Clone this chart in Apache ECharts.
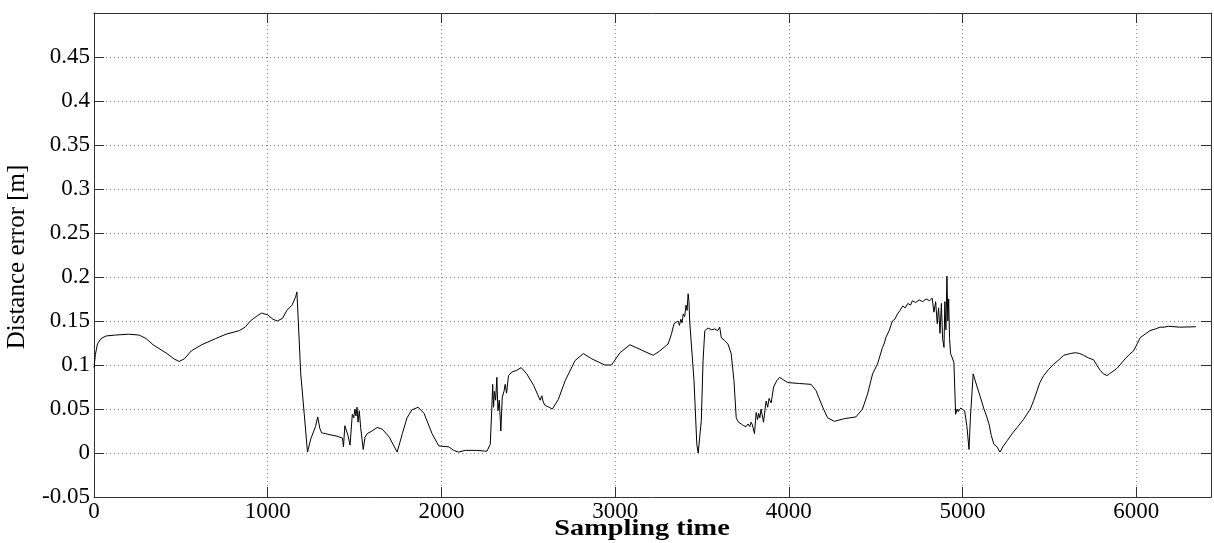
<!DOCTYPE html>
<html>
<head>
<meta charset="utf-8">
<script src="https://cdn.jsdelivr.net/npm/echarts@6/dist/echarts.min.js"></script>
<style>
  html, body { margin: 0; padding: 0; background: #fff; }
  #chart { width: 1214px; height: 543px; }
</style>
</head>
<body>
<div id="chart"></div>
<script>
// Sampling instants and the distance error measured at each one [m]
const sampleTime = [
  0, 8, 20, 40, 70, 120, 200, 260, 300, 340, 380, 420, 460, 490, 520, 560, 620, 700, 760, 836,
  870, 900, 940, 965, 1000, 1030, 1055, 1085, 1110, 1140, 1160, 1168, 1176, 1190, 1210, 1229, 1248, 1275, 1288, 1300,
  1310, 1353, 1400, 1430, 1436, 1444, 1452, 1462, 1474, 1487, 1495, 1502, 1508, 1514, 1520, 1527, 1535, 1550, 1560, 1573,
  1600, 1630, 1660, 1700, 1745, 1775, 1802, 1830, 1866, 1900, 1946, 1985, 2042, 2070, 2099, 2137, 2200, 2262, 2281, 2290,
  2295, 2300, 2305, 2312, 2319, 2325, 2333, 2342, 2350, 2360, 2367, 2375, 2386, 2405, 2434, 2459, 2491, 2530, 2555, 2568,
  2578, 2586, 2597, 2620, 2639, 2673, 2712, 2769, 2817, 2865, 2941, 2979, 3028, 3085, 3152, 3219, 3257, 3305, 3324, 3339,
  3362, 3370, 3378, 3385, 3392, 3400, 3408, 3414, 3420, 3425, 3429, 3454, 3470, 3478, 3485, 3496, 3506, 3516, 3534, 3555,
  3573, 3590, 3602, 3611, 3630, 3649, 3668, 3684, 3697, 3710, 3726, 3740, 3754, 3765, 3775, 3783, 3790, 3802, 3812, 3820,
  3826, 3833, 3840, 3854, 3869, 3878, 3886, 3898, 3912, 3930, 3946, 3970, 3994, 4060, 4128, 4156, 4195, 4223, 4262, 4319,
  4386, 4424, 4453, 4482, 4510, 4539, 4550, 4558, 4577, 4596, 4610, 4625, 4640, 4655, 4670, 4685, 4700, 4711, 4730, 4750,
  4770, 4790, 4810, 4825, 4835, 4845, 4854, 4862, 4870, 4878, 4885, 4893, 4898, 4904, 4910, 4915, 4920, 4925, 4931, 4950,
  4960, 4968, 4975, 4989, 5012, 5025, 5037, 5045, 5061, 5073, 5084, 5100, 5123, 5138, 5152, 5165, 5180, 5198, 5215, 5235,
  5257, 5285, 5314, 5350, 5390, 5410, 5429, 5445, 5467, 5495, 5525, 5555, 5582, 5620, 5649, 5675, 5697, 5725, 5754, 5775,
  5792, 5810, 5831, 5845, 5860, 5888, 5910, 5936, 5960, 5984, 6000, 6022, 6050, 6079, 6110, 6137, 6160, 6185, 6250, 6343
];
const distanceError = [
  0.097, 0.112, 0.124, 0.130, 0.133, 0.134, 0.135, 0.134, 0.130, 0.123, 0.118, 0.113, 0.107, 0.104, 0.107, 0.116, 0.123, 0.130, 0.135, 0.139,
  0.143, 0.150, 0.156, 0.159, 0.157, 0.152, 0.150, 0.153, 0.162, 0.168, 0.177, 0.183, 0.150, 0.090, 0.045, 0.001, 0.016, 0.030, 0.041, 0.028,
  0.023, 0.021, 0.019, 0.017, 0.007, 0.031, 0.030, 0.020, 0.009, 0.044, 0.040, 0.050, 0.042, 0.052, 0.035, 0.048, 0.029, 0.004, 0.018, 0.022,
  0.025, 0.029, 0.027, 0.018, 0.001, 0.022, 0.040, 0.049, 0.052, 0.045, 0.022, 0.008, 0.007, 0.003, 0.001, 0.003, 0.003, 0.002, 0.010, 0.050,
  0.078, 0.052, 0.070, 0.060, 0.086, 0.048, 0.060, 0.025, 0.063, 0.070, 0.078, 0.068, 0.088, 0.092, 0.094, 0.097, 0.090, 0.077, 0.066, 0.060,
  0.065, 0.058, 0.054, 0.052, 0.050, 0.061, 0.082, 0.105, 0.113, 0.107, 0.100, 0.100, 0.114, 0.123, 0.117, 0.111, 0.116, 0.124, 0.135, 0.147,
  0.150, 0.145, 0.152, 0.148, 0.158, 0.155, 0.168, 0.162, 0.181, 0.172, 0.150, 0.082, 0.010, 0.000, 0.002, 0.037, 0.105, 0.139, 0.142, 0.140,
  0.141, 0.139, 0.143, 0.131, 0.128, 0.124, 0.113, 0.082, 0.040, 0.035, 0.033, 0.031, 0.030, 0.033, 0.030, 0.035, 0.032, 0.022, 0.046, 0.038,
  0.045, 0.040, 0.050, 0.035, 0.059, 0.052, 0.062, 0.057, 0.075, 0.082, 0.086, 0.083, 0.080, 0.079, 0.078, 0.071, 0.052, 0.040, 0.036, 0.039,
  0.041, 0.050, 0.067, 0.090, 0.101, 0.120, 0.125, 0.131, 0.139, 0.150, 0.152, 0.158, 0.162, 0.167, 0.165, 0.170, 0.168, 0.173, 0.171, 0.174,
  0.172, 0.175, 0.173, 0.176, 0.160, 0.172, 0.147, 0.165, 0.136, 0.170, 0.130, 0.120, 0.172, 0.140, 0.201, 0.150, 0.175, 0.130, 0.113, 0.103,
  0.044, 0.050, 0.047, 0.051, 0.048, 0.030, 0.004, 0.040, 0.090, 0.082, 0.075, 0.065, 0.050, 0.042, 0.033, 0.020, 0.010, 0.007, 0.001, 0.008,
  0.014, 0.022, 0.029, 0.038, 0.050, 0.060, 0.071, 0.080, 0.088, 0.095, 0.101, 0.106, 0.111, 0.113, 0.114, 0.113, 0.111, 0.108, 0.106, 0.099,
  0.094, 0.090, 0.088, 0.090, 0.092, 0.096, 0.101, 0.107, 0.112, 0.116, 0.122, 0.131, 0.135, 0.139, 0.141, 0.143, 0.143, 0.144, 0.143, 0.1435
];

const xRange = [0, 6430];
const xStep = 1000;
const yRange = [-0.05, 0.5];
const yStep = 0.05;

const FONT = '"Liberation Serif", "Times New Roman", serif';
const points = sampleTime.map((t, i) => [t, distanceError[i]]);

const chart = echarts.init(document.getElementById('chart'), null, { renderer: 'canvas' });

const frameLine = { show: true, onZero: false, lineStyle: { color: '#333', width: 1 } };
const innerTick = { show: true, inside: true, length: 10, lineStyle: { color: '#333', width: 1 } };
const dotted = { show: true, lineStyle: { color: '#8a8a8a', width: 1, type: [1, 3] } };

const xLabel = v => (Math.abs(v % xStep) < 1e-6 ? String(v) : '');
const yLabel = v => {
  const r = Math.round(v * 100) / 100;
  return r >= 0.499 ? '' : String(r);
};

chart.setOption({
  animation: false,
  backgroundColor: '#fff',
  grid: { left: 94, right: 0, top: 13, bottom: 46, containLabel: false },
  xAxis: [
    {
      type: 'value', min: xRange[0], max: xRange[1], interval: xStep,
      axisLine: frameLine, axisTick: innerTick, splitLine: dotted,
      axisLabel: { formatter: xLabel, color: '#000', fontFamily: FONT, fontSize: 23, margin: 3 }
    },
    {
      type: 'value', position: 'top', min: xRange[0], max: xRange[1], interval: xStep,
      axisLine: frameLine, axisTick: innerTick, splitLine: { show: false },
      axisLabel: { show: false }
    }
  ],
  yAxis: [
    {
      type: 'value', min: yRange[0], max: yRange[1], interval: yStep,
      axisLine: frameLine, axisTick: innerTick, splitLine: dotted,
      axisLabel: { formatter: yLabel, color: '#000', fontFamily: FONT, fontSize: 23, margin: 4 }
    },
    {
      type: 'value', position: 'right', min: yRange[0], max: yRange[1], interval: yStep,
      axisLine: frameLine, axisTick: innerTick, splitLine: { show: false },
      axisLabel: { show: false }
    }
  ],
  graphic: [
    {
      type: 'text', x: 642, y: 517, scaleX: 1.18, originX: 0, originY: 0,
      style: { text: 'Sampling time', fontFamily: FONT, fontSize: 24, fontWeight: 'bold', fill: '#000', textAlign: 'center', textVerticalAlign: 'top' }
    },
    {
      type: 'text', x: 5, y: 257, rotation: Math.PI / 2,
      style: { text: 'Distance error [m]', fontFamily: FONT, fontSize: 25, fill: '#000', textAlign: 'center', textVerticalAlign: 'top' }
    }
  ],
  series: [
    {
      type: 'line', xAxisIndex: 0, yAxisIndex: 0,
      data: points, showSymbol: false, symbol: 'none',
      lineStyle: { color: '#000', width: 1 },
      silent: true
    }
  ]
});
</script>
</body>
</html>
